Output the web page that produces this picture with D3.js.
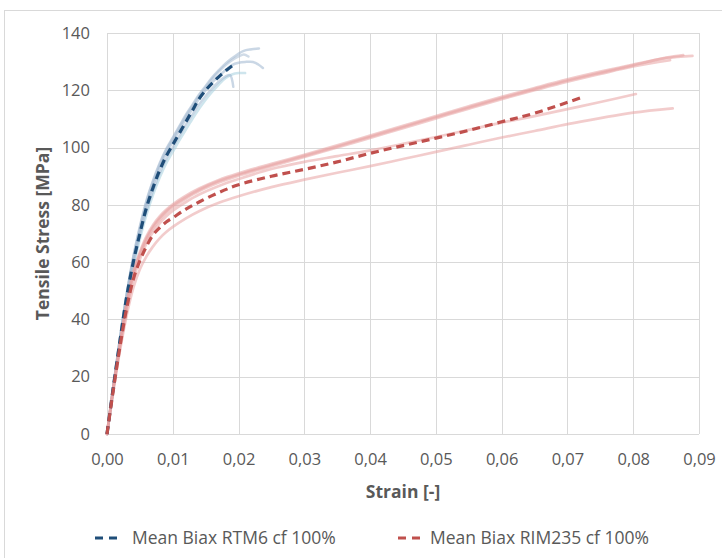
<!DOCTYPE html>
<html>
<head>
<meta charset="utf-8">
<script src="https://cdn.jsdelivr.net/npm/d3@7"></script>
<style>
  html, body { margin: 0; padding: 0; background: #ffffff; }
  svg { display: block; }
  text { font-family: "Open Sans", "Liberation Sans", sans-serif; }
</style>
</head>
<body>
<div id="chart"></div>
<script>
// ---------- DATA ----------
const xTicks = [0, 0.01, 0.02, 0.03, 0.04, 0.05, 0.06, 0.07, 0.08, 0.09];
const yTicks = [0, 20, 40, 60, 80, 100, 120, 140];
const xTitle = "Strain [-]";
const yTitle = "Tensile Stress [MPa]";
const legendLabels = ["Mean Biax RTM6 cf 100%", "Mean Biax RIM235 cf 100%"];

// RTM6 mean
const rtm6MeanStrain = [0, 0.001, 0.002, 0.003, 0.004, 0.005, 0.006, 0.007, 0.008, 0.009, 0.010, 0.011, 0.012, 0.013, 0.014, 0.015, 0.016, 0.017, 0.018, 0.019, 0.0196];
const rtm6MeanStress = [0, 17, 33, 48, 60, 70, 79, 86, 92, 97, 101, 105, 109, 113, 117, 120, 122.5, 124.7, 126.7, 128.5, 129.4];

// RTM6 specimens
const rtm6S1Strain = [0, 0.001, 0.002, 0.003, 0.004, 0.005, 0.006, 0.007, 0.008, 0.009, 0.010, 0.011, 0.012, 0.013, 0.014, 0.015, 0.016, 0.017, 0.018, 0.019, 0.0207, 0.022, 0.0231];
const rtm6S1Stress = [0, 17.5, 34, 49, 62, 72.5, 81.5, 88.5, 94.5, 99.5, 103.5, 107.5, 111.5, 115, 118.5, 121.5, 124.5, 127, 129.3, 131.2, 133.7, 134.3, 134.6];
const rtm6S2Strain = [0, 0.001, 0.002, 0.003, 0.004, 0.005, 0.006, 0.007, 0.008, 0.009, 0.010, 0.011, 0.012, 0.013, 0.014, 0.015, 0.016, 0.017, 0.018, 0.019, 0.020, 0.021, 0.0222, 0.023, 0.0237];
const rtm6S2Stress = [0, 17, 33.5, 48.5, 61, 71, 80, 87, 93, 98, 102, 106, 110, 113.5, 117, 120, 122.8, 125, 127, 128.8, 129.6, 129.9, 129.9, 129, 127.8];
const rtm6S3Strain = [0, 0.001, 0.002, 0.003, 0.004, 0.005, 0.006, 0.007, 0.008, 0.009, 0.010, 0.011, 0.012, 0.013, 0.014, 0.015, 0.016, 0.017, 0.018, 0.019, 0.020, 0.021];
const rtm6S3Stress = [0, 16, 32, 46.5, 58, 68, 76.5, 83.5, 89.5, 94.5, 98.5, 102.5, 106.3, 110, 113.5, 116.7, 119.5, 122, 124.2, 125.5, 126, 126];
const rtm6S4Strain = [0, 0.001, 0.002, 0.003, 0.004, 0.005, 0.006, 0.007, 0.008, 0.009, 0.010, 0.011, 0.012, 0.013, 0.014, 0.015, 0.016, 0.017, 0.018, 0.0187, 0.0192];
const rtm6S4Stress = [0, 16.5, 32.5, 47.5, 59.5, 69.5, 78, 85, 91, 96, 100, 104, 108, 111.5, 115, 118, 120.7, 123, 124.8, 125.3, 121.2];
const rtm6S5Strain = [0, 0.001, 0.002, 0.003, 0.004, 0.005, 0.006, 0.007, 0.008, 0.009, 0.010, 0.011, 0.012, 0.013, 0.014, 0.015, 0.016, 0.017, 0.018, 0.019, 0.020, 0.0208, 0.0215];
const rtm6S5Stress = [0, 17.2, 33.8, 48.8, 61.5, 72, 81, 88, 94, 99, 103, 107, 111, 114.5, 118, 121, 124, 126.5, 128.7, 130.5, 131.8, 132.5, 131.8];

// RIM235 mean
const rimMeanStrain = [0, 0.001, 0.002, 0.003, 0.004, 0.005, 0.006, 0.007, 0.008, 0.009, 0.010, 0.012, 0.014, 0.017, 0.020, 0.025, 0.030, 0.035, 0.040, 0.045, 0.050, 0.055, 0.060, 0.065, 0.0723];
const rimMeanStress = [0, 16, 31, 44, 54, 60.5, 65.5, 69.5, 72, 74, 75.5, 78.5, 81, 84.3, 87, 90, 92.4, 95, 98, 100.7, 103.3, 106, 109, 112, 117.6];

// RIM235 specimens
const rimS1Strain = [0, 0.001, 0.002, 0.003, 0.004, 0.005, 0.006, 0.007, 0.008, 0.009, 0.010, 0.012, 0.014, 0.017, 0.020, 0.025, 0.030, 0.035, 0.040, 0.045, 0.050, 0.055, 0.060, 0.065, 0.070, 0.075, 0.080, 0.085, 0.089];
const rimS1Stress = [0, 17, 32, 46, 56.5, 63.5, 69, 73, 76, 78.3, 80.2, 83.2, 85.7, 88.7, 91, 94.3, 97.5, 100.8, 104.2, 107.6, 111, 114.4, 117.7, 120.8, 123.8, 126.5, 129, 131.2, 132];
const rimS2Strain = [0, 0.001, 0.002, 0.003, 0.004, 0.005, 0.006, 0.007, 0.008, 0.009, 0.010, 0.012, 0.014, 0.017, 0.020, 0.025, 0.030, 0.035, 0.040, 0.045, 0.050, 0.055, 0.060, 0.065, 0.070, 0.075, 0.080, 0.0856];
const rimS2Stress = [0, 16.6, 31.5, 45, 55.5, 62.5, 67.8, 71.8, 74.8, 77.2, 79.2, 82.2, 84.8, 87.8, 90.2, 93.5, 96.7, 100, 103.4, 106.8, 110.2, 113.6, 116.9, 120, 123, 125.7, 128.3, 130.5];
const rimS3Strain = [0, 0.001, 0.002, 0.003, 0.004, 0.005, 0.006, 0.007, 0.008, 0.009, 0.010, 0.012, 0.014, 0.017, 0.020, 0.025, 0.030, 0.035, 0.040, 0.045, 0.050, 0.055, 0.060, 0.065, 0.070, 0.075, 0.080, 0.085, 0.0876];
const rimS3Stress = [0, 16.8, 31.8, 45.5, 56, 63, 68.4, 72.4, 75.4, 77.8, 79.7, 82.7, 85.3, 88.3, 90.6, 93.9, 97.1, 100.4, 103.8, 107.2, 110.6, 114, 117.3, 120.4, 123.4, 126.1, 128.7, 131.4, 132.3];
const rimS4Strain = [0, 0.001, 0.002, 0.003, 0.004, 0.005, 0.006, 0.007, 0.008, 0.009, 0.010, 0.012, 0.014, 0.017, 0.020, 0.025, 0.030, 0.035, 0.040, 0.045, 0.050, 0.055, 0.060, 0.065, 0.070, 0.075, 0.0804];
const rimS4Stress = [0, 16, 30.5, 43.5, 54, 61, 66.5, 70.5, 73.5, 76, 78, 81, 83.6, 86.6, 89, 92.5, 95, 97, 99, 101.3, 103.7, 106.2, 108.7, 111, 113.4, 115.9, 118.7];
const rimS5Strain = [0, 0.001, 0.002, 0.003, 0.004, 0.005, 0.006, 0.007, 0.008, 0.009, 0.010, 0.012, 0.014, 0.017, 0.020, 0.025, 0.030, 0.035, 0.040, 0.045, 0.050, 0.055, 0.060, 0.065, 0.070, 0.075, 0.080, 0.086];
const rimS5Stress = [0, 15.5, 29.5, 41.5, 51, 57.5, 62, 65.5, 68.3, 70.5, 72.3, 75.3, 77.8, 80.7, 83, 86.2, 88.8, 91.2, 93.5, 96, 98.5, 101, 103.5, 105.8, 108.2, 110.3, 112.2, 113.7];

// ---------- CHART ----------
const W = 722, H = 558;
const plot = { left: 107, right: 699, top: 33, bottom: 434 };

const svg = d3.select("#chart").append("svg").attr("width", W).attr("height", H);

// outer chart frame
svg.append("rect")
  .attr("x", 4.5).attr("y", 10.5).attr("width", W + 10).attr("height", H + 10)
  .attr("fill", "none").attr("stroke", "#d9d9d9").attr("stroke-width", 1);

const x = d3.scaleLinear().domain([0, 0.09]).range([plot.left, plot.right]);
const y = d3.scaleLinear().domain([0, 140]).range([plot.bottom, plot.top]);

const fmtX = v => d3.format(".2f")(v).replace(".", ",");

// grid
const gx = svg.append("g").attr("transform", `translate(0,${plot.bottom})`)
  .call(d3.axisBottom(x).tickValues(xTicks).tickSize(-(plot.bottom - plot.top)).tickFormat(fmtX).tickPadding(19));
gx.select(".domain").remove();
gx.selectAll(".tick line").attr("stroke", "#d9d9d9").attr("shape-rendering", "crispEdges");
gx.selectAll(".tick text").attr("fill", "#595959").style("font-size", "16.5px");

const gy = svg.append("g").attr("transform", `translate(${plot.left},0)`)
  .call(d3.axisLeft(y).tickValues(yTicks).tickSize(-(plot.right - plot.left)).tickPadding(17));
gy.select(".domain").remove();
gy.selectAll(".tick line").attr("stroke", "#d9d9d9").attr("shape-rendering", "crispEdges");
gy.selectAll(".tick text").attr("fill", "#595959").style("font-size", "16.5px");

// axis titles
svg.append("text")
  .attr("x", (plot.left + plot.right) / 2).attr("y", 498)
  .attr("text-anchor", "middle").attr("fill", "#595959")
  .style("font-size", "17.5px").style("font-weight", "bold").text(xTitle);
svg.append("text")
  .attr("transform", `translate(49,${(plot.top + plot.bottom) / 2}) rotate(-90)`)
  .attr("text-anchor", "middle").attr("fill", "#595959")
  .style("font-size", "17.5px").style("font-weight", "bold").text(yTitle);

// lines
const line = d3.line().x(d => x(d[0])).y(d => y(d[1])).curve(d3.curveCatmullRom.alpha(0.5));
const zipXY = (a, b) => a.map((v, i) => [v, b[i]]);

const curvesG = svg.append("g");

const rtm6Specimens = [
  [rtm6S1Strain, rtm6S1Stress, "#9fb6cf"],
  [rtm6S2Strain, rtm6S2Stress, "#9fb6cf"],
  [rtm6S3Strain, rtm6S3Stress, "#a6d0df"],
  [rtm6S4Strain, rtm6S4Stress, "#9fb6cf"],
  [rtm6S5Strain, rtm6S5Stress, "#a9bdd3"]
];
const rimSpecimens = [
  [rimS1Strain, rimS1Stress],
  [rimS2Strain, rimS2Stress],
  [rimS3Strain, rimS3Stress],
  [rimS4Strain, rimS4Stress],
  [rimS5Strain, rimS5Stress]
];

rtm6Specimens.forEach(s => {
  curvesG.append("path").datum(zipXY(s[0], s[1])).attr("d", line)
    .attr("fill", "none").attr("stroke", s[2]).attr("stroke-opacity", 0.55)
    .attr("stroke-width", 2.5).attr("stroke-linecap", "round");
});
rimSpecimens.forEach(s => {
  curvesG.append("path").datum(zipXY(s[0], s[1])).attr("d", line)
    .attr("fill", "none").attr("stroke", "#e7a3a3").attr("stroke-opacity", 0.55)
    .attr("stroke-width", 2.7).attr("stroke-linecap", "round");
});

const blueMean = "#1f4e79", redMean = "#c0504d";
curvesG.append("path").datum(zipXY(rtm6MeanStrain, rtm6MeanStress)).attr("d", line)
  .attr("fill", "none").attr("stroke", blueMean).attr("stroke-width", 3.2)
  .attr("stroke-dasharray", "8,5");
curvesG.append("path").datum(zipXY(rimMeanStrain, rimMeanStress)).attr("d", line)
  .attr("fill", "none").attr("stroke", redMean).attr("stroke-width", 3.2)
  .attr("stroke-dasharray", "8,5");

// legend
const legend = [
  { label: legendLabels[0], color: blueMean, x0: 95, tx: 132 },
  { label: legendLabels[1], color: redMean, x0: 398, tx: 430 }
];
const ly = 538;
legend.forEach(l => {
  svg.append("line").attr("x1", l.x0).attr("x2", l.x0 + 26).attr("y1", ly).attr("y2", ly)
    .attr("stroke", l.color).attr("stroke-width", 3.2).attr("stroke-dasharray", "8,6");
  svg.append("text").attr("x", l.tx).attr("y", ly + 6).attr("fill", "#595959")
    .style("font-size", "17.5px").text(l.label);
});
</script>
</body>
</html>
